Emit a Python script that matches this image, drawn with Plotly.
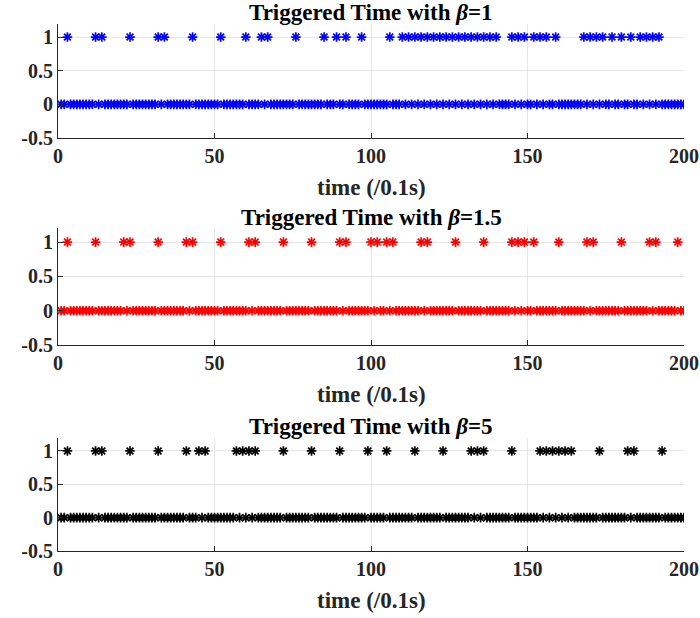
import plotly.graph_objects as go
from plotly.subplots import make_subplots

# sampling instants (units of 0.1 s)
time_steps = list(range(1, 201))

# instants at which an event was triggered, one list per beta value
trig_beta_1 = [3, 12, 14, 23, 32, 34, 43, 52, 60, 65, 67, 76, 85, 89, 92, 97, 106,
               110, 112, 114, 116, 118, 120, 122, 124, 126, 128, 130, 132, 134, 136, 138, 140,
               145, 147, 149, 152, 154, 156, 159,
               168, 170, 172, 174, 177, 180, 183, 186, 188, 190, 192]
trig_beta_1_5 = [3, 12, 21, 23, 32, 41, 43, 52, 61, 63, 72, 81, 90, 92, 100, 102, 105, 107,
                 116, 118, 127, 136, 145, 147, 149, 152, 160, 169, 171, 180, 189, 191, 198]
trig_beta_5 = [3, 12, 14, 23, 32, 41, 45, 47, 57, 59, 61, 63, 72, 81, 90, 99, 105, 114, 123,
               132, 134, 136, 145, 154, 156, 158, 160, 162, 164, 173, 182, 184, 193]

titles = ["Triggered Time with <i>β</i>=1",
          "Triggered Time with <i>β</i>=1.5",
          "Triggered Time with <i>β</i>=5"]
series = [trig_beta_1, trig_beta_1_5, trig_beta_5]
colors = ["#0000ff", "#ff0000", "#000000"]

# vertical placement of each axes box, in pixels from the top of the page
W, H = 700, 618
boxes = [(23.6, 138.0), (228.4, 345.0), (437.6, 551.0)]
x_left, x_right = 58, 684

fig = make_subplots(rows=3, cols=1)

font_family = "Liberation Serif, Times New Roman, serif"
ink = "#262626"

for i, (trig, color) in enumerate(zip(series, colors), start=1):
    trig_set = set(trig)
    ys = [1 if t in trig_set else 0 for t in time_steps]
    fig.add_trace(go.Scatter(
        x=time_steps, y=ys, mode="markers",
        marker=dict(symbol="asterisk", size=8, color=color,
                    line=dict(color=color, width=1.7)),
        showlegend=False, hoverinfo="x+y"),
        row=i, col=1)

annotations = []
for i, (top, bottom) in enumerate(boxes, start=1):
    xa = "xaxis" if i == 1 else f"xaxis{i}"
    ya = "yaxis" if i == 1 else f"yaxis{i}"
    fig.layout[xa].update(
        domain=[x_left / W, x_right / W], range=[0, 200], automargin=False,
        tickvals=[0, 50, 100, 150, 200], ticktext=["0", "50", "100", "150", "200"],
        showgrid=True, gridcolor="#e6e6e6", gridwidth=1, zeroline=False,
        showline=True, linecolor=ink, linewidth=1, mirror=False,
        ticks="inside", ticklen=5, tickcolor=ink,
        tickfont=dict(family=font_family, size=20, color=ink, weight="bold"))
    fig.layout[ya].update(
        domain=[1 - bottom / H, 1 - top / H], range=[-0.5, 1.2], automargin=False,
        tickvals=[-0.5, 0, 0.5, 1], ticktext=["-0.5", "0", "0.5", "1"],
        showgrid=True, gridcolor="#e6e6e6", gridwidth=1, zeroline=False,
        showline=True, linecolor=ink, linewidth=1, mirror=False,
        ticks="inside", ticklen=5, tickcolor=ink,
        tickfont=dict(family=font_family, size=20, color=ink, weight="bold"))
    cx = (x_left + x_right) / 2 / W
    # panel title
    annotations.append(dict(
        text=titles[i - 1], xref="paper", yref="paper",
        x=cx, y=1 - (top - 11) / H,
        xanchor="center", yanchor="middle", showarrow=False,
        font=dict(family=font_family, size=23, color="#000000", weight="bold")))
    # x-axis label
    annotations.append(dict(
        text="time (/0.1s)", xref="paper", yref="paper",
        x=cx, y=1 - (bottom + 49) / H,
        xanchor="center", yanchor="middle", showarrow=False,
        font=dict(family=font_family, size=23, color=ink, weight="bold")))

fig.update_layout(
    width=W, height=H,
    margin=dict(l=0, r=0, t=0, b=0),
    paper_bgcolor="white", plot_bgcolor="white",
    annotations=annotations,
    font=dict(family=font_family))

fig.write_html("out.html")
